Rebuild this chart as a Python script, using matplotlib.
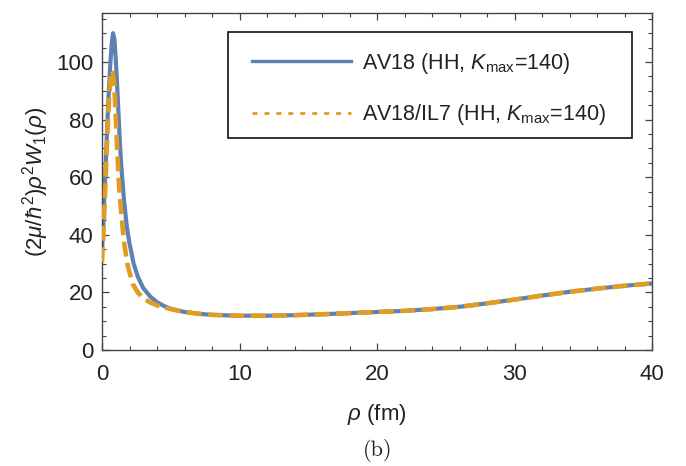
import matplotlib
matplotlib.use("Agg")
import matplotlib.pyplot as plt
from matplotlib.lines import Line2D
from matplotlib.patches import Rectangle
from matplotlib.ticker import MultipleLocator

plt.rcParams['font.family'] = ['Liberation Sans', 'DejaVu Sans']
plt.rcParams['mathtext.fontset'] = 'custom'
plt.rcParams['mathtext.rm'] = 'Liberation Sans'
plt.rcParams['mathtext.it'] = 'Liberation Sans:italic'
plt.rcParams['mathtext.bf'] = 'Liberation Sans:bold'
plt.rcParams['lines.scale_dashes'] = False

# ---- data ----
rho_av18 = [0, 0.1, 0.2, 0.3, 0.4, 0.5, 0.6, 0.7, 0.8, 0.9, 1.0, 1.1, 1.2, 1.3,
            1.4, 1.6, 1.8, 2.0, 2.3, 2.6, 3.0, 3.5, 4.0, 4.5, 5, 6, 7, 8, 10,
            12, 14, 16, 18, 20, 22, 24, 26, 28, 30, 32, 34, 36, 38, 40]
w_av18 = [34, 44, 56, 68, 80, 90, 99, 106, 110, 108, 101, 92, 82, 72,
          64, 52, 43, 37, 30, 25.5, 21.5, 18.6, 16.6, 15.3, 14.3, 13.2, 12.6, 12.2, 11.9,
          11.9, 12.1, 12.4, 12.8, 13.2, 13.6, 14.2, 15.0, 16.2, 17.5, 18.9, 20.2, 21.3, 22.3, 23.1]

rho_il7 = [0, 0.1, 0.2, 0.3, 0.4, 0.5, 0.6, 0.7, 0.8, 0.9, 1.0, 1.1, 1.2, 1.3,
           1.45, 1.6, 1.84, 2.0, 2.25, 2.6, 3.0, 3.5, 4.0, 4.5, 5, 6, 7, 8, 10,
           12, 14, 16, 18, 20, 22, 24, 26, 28, 30, 32, 34, 36, 38, 40]
w_il7 = [30.5, 40, 52, 64, 76, 86, 93, 97, 96, 91, 81, 70, 60, 53,
         45, 37.5, 30, 27, 22.8, 20, 18, 16.5, 15.5, 14.8, 14.2, 13.2, 12.6, 12.2, 11.9,
         11.9, 12.1, 12.4, 12.8, 13.2, 13.6, 14.2, 15.0, 16.2, 17.5, 18.9, 20.2, 21.3, 22.3, 23.1]

labels = ['AV18 (HH, $K_{\\mathrm{max}}$=140)', 'AV18/IL7 (HH, $K_{\\mathrm{max}}$=140)']
xticks = [0, 10, 20, 30, 40]
yticks = [0, 20, 40, 60, 80, 100]

blue = '#5e81b5'
orange = '#e19c24'
axcol = '#444444'
txtcol = '#222222'

W, H = 686, 466
fig = plt.figure(figsize=(6.86, 4.66), dpi=100)
ax = fig.add_axes([102/W, 1-350/H, (652-102)/W, (350-13)/H])

ax.plot(rho_av18, w_av18, color=blue, lw=3.0, solid_capstyle='butt', zorder=2)
ax.plot(rho_il7, w_il7, color=orange, lw=3.3, dashes=(10.8, 4.6), zorder=3)

ax.set_xlim(0, 40)
ax.set_ylim(0, 117)
ax.set_xticks(xticks)
ax.set_yticks(yticks)
ax.xaxis.set_minor_locator(MultipleLocator(2))
ax.yaxis.set_minor_locator(MultipleLocator(5))
ax.tick_params(which='both', direction='in', top=True, right=True,
               color=axcol, labelcolor=txtcol, labelsize=16)
ax.tick_params(which='major', length=5, width=0.9)
ax.tick_params(which='minor', length=3, width=0.8)
ax.tick_params(axis='x', which='major', pad=10)
ax.tick_params(axis='y', which='major', pad=6)
for s in ax.spines.values():
    s.set_color(axcol)
    s.set_linewidth(1.0)

ax.set_xlabel('$\\rho$ (fm)', fontsize=16, color=txtcol, labelpad=12)
ax.set_ylabel('$(2\\mu/\\hbar^2)\\rho^2 W_1(\\rho)$', fontsize=16, color=txtcol, labelpad=4)

# legend frame drawn separately
fig.patches.append(Rectangle((228/W, 1-138/H), (632-228)/W, (138-32)/H,
                             transform=fig.transFigure, facecolor='white',
                             edgecolor='#111111', lw=1.2, zorder=4))

handles = [Line2D([], [], color=blue, lw=2.4),
           Line2D([], [], color=orange, lw=2.0, dashes=(3.6, 5.0))]
leg = fig.legend(handles, labels, loc='center',
                 bbox_to_anchor=(429/W, 1-89/H), fontsize=15.5,
                 frameon=False, handlelength=4.6, handletextpad=0.5,
                 labelspacing=1.24, borderpad=0, borderaxespad=0)
leg.set_zorder(5)
for t in leg.get_texts():
    t.set_color(txtcol)

fig.text(378/W, 1-450/H, '(b)', family='cmr10', fontsize=16,
         ha='center', va='center', color=txtcol)

fig.savefig('out.png', dpi=100)
